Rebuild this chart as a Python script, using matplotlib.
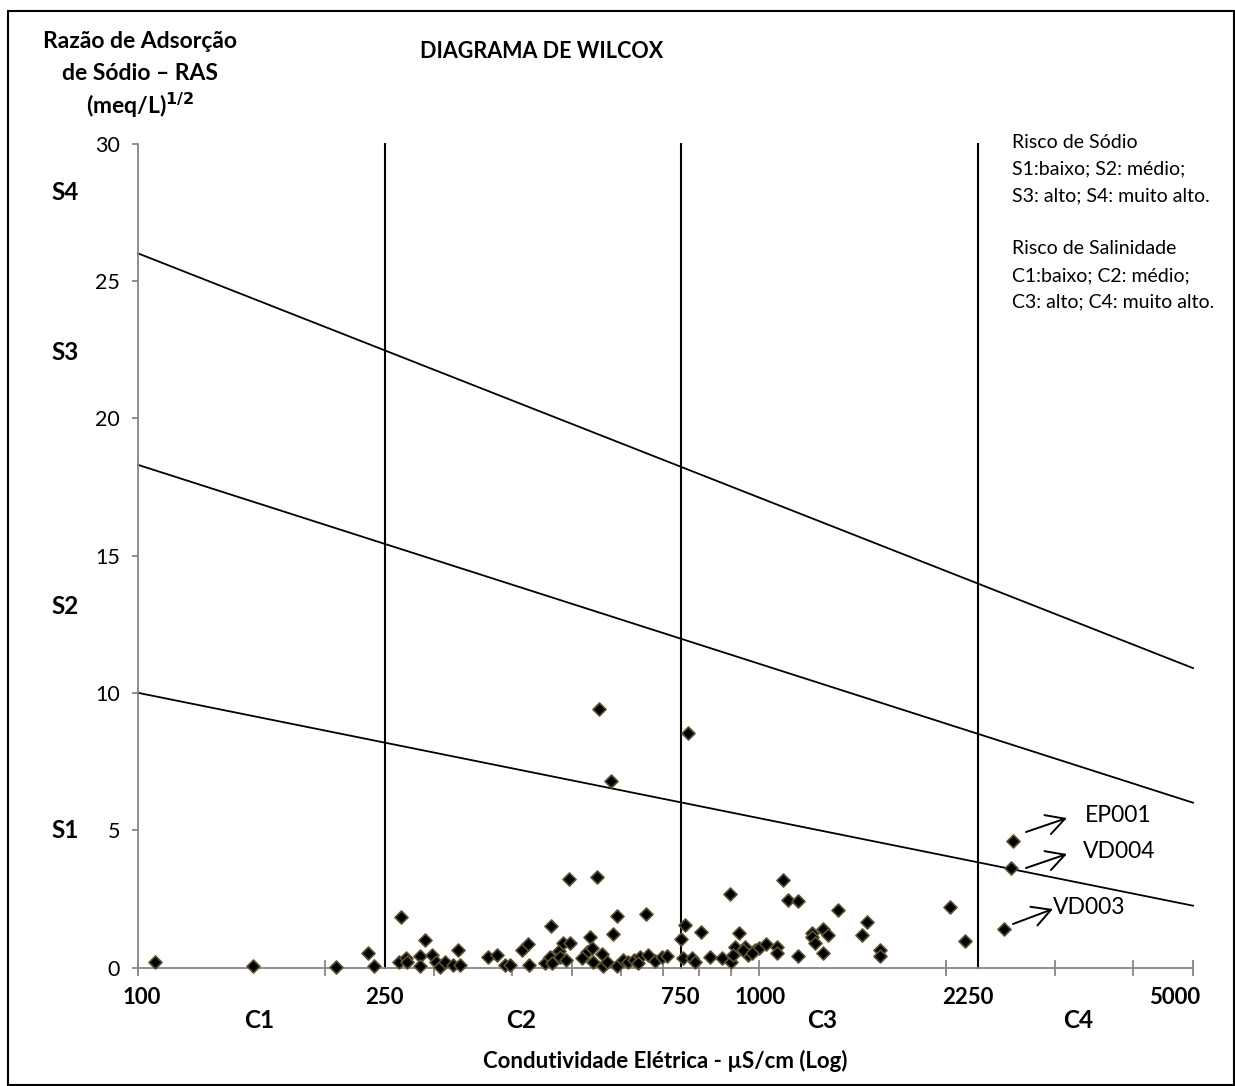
import matplotlib
matplotlib.use("Agg")
import matplotlib.pyplot as plt
import numpy as np

W, H = 1235, 1086
FONT = ["Lato", "DejaVu Sans"]
plt.rcParams['font.family'] = FONT

# ---------------- data ----------------
ce = [106.5, 153, 208, 235, 240, 265, 263, 270, 271, 285, 285, 290, 297, 302, 306, 312,
      322, 328, 330, 366, 379, 390, 397, 416, 424, 427, 453, 461, 465, 462, 476, 483,
      496, 478, 489, 494, 548, 534, 581, 591, 657, 528, 538, 518, 541, 558, 561, 569,
      590, 603, 616, 628, 643, 639, 663, 680, 697, 712, 748, 761, 754, 779, 789, 806,
      834, 871, 899, 929, 915, 900, 909, 950, 961, 985, 1001, 1026, 1068, 1068, 1092,
      1115, 1157, 1157, 1216, 1216, 1231, 1270, 1293, 1270, 1342, 1464, 1494, 1566,
      1566, 2030, 2149, 2481, 2546, 2562, 553, 770, 577, 944, 974]
ras = [0.20, 0.05, 0.03, 0.53, 0.05, 1.85, 0.20, 0.36, 0.20, 0.42, 0.05, 1.00, 0.46,
       0.20, 0.03, 0.21, 0.08, 0.64, 0.10, 0.37, 0.44, 0.10, 0.08, 0.65, 0.86, 0.08,
       0.16, 0.39, 0.15, 1.51, 0.61, 0.88, 0.88, 0.39, 0.27, 3.21, 3.29, 1.10, 1.22,
       1.89, 1.95, 0.58, 0.70, 0.33, 0.21, 0.48, 0.05, 0.21, 0.05, 0.27, 0.21, 0.27,
       0.39, 0.15, 0.46, 0.25, 0.39, 0.42, 1.03, 1.55, 0.33, 0.33, 0.21, 1.28, 0.37,
       0.33, 2.66, 1.24, 0.76, 0.21, 0.46, 0.73, 0.46, 0.64, 0.70, 0.86, 0.74, 0.54,
       3.19, 2.46, 2.42, 0.42, 1.27, 1.12, 0.88, 1.39, 1.19, 0.54, 2.09, 1.19, 1.67,
       0.64, 0.42, 2.21, 0.95, 1.41, 3.61, 4.62, 9.40, 8.55, 6.79, 0.63, 0.53]

# boundaries
ce_limits = [250, 750, 2250]
line_ce = [100, 5000]
s1_s2 = [10.0, 2.25]
s2_s3 = [18.3, 6.0]
s3_s4 = [26.0, 10.9]

# labelled samples
sample_names = ["EP001", "VD004", "VD003"]

# text labels
x_tick_texts = ["100", "250", "750", "1000", "2250", "5000"]
c_classes = ["C1", "C2", "C3", "C4"]
s_classes = ["S4", "S3", "S2", "S1"]
y_ticks = [0, 5, 10, 15, 20, 25, 30]


def fx(px):
    return px / W


def fy(py):
    return 1 - py / H


fig = plt.figure(figsize=(W / 100, H / 100), dpi=100)
ax = fig.add_axes([fx(138), fy(967.5), (1193 - 138) / W, (967.5 - 143.5) / H])
ax.set_xscale('log')
ax.set_xlim(100, 5000)
ax.set_ylim(0, 30)

gray = '#868686'
for s in ['top', 'right']:
    ax.spines[s].set_visible(False)
for s in ['left', 'bottom']:
    ax.spines[s].set_color(gray)
    ax.spines[s].set_linewidth(1.3)

ax.set_xticks([100, 1000])
ax.set_xticks([200, 300, 400, 500, 600, 700, 800, 900, 2000, 3000, 4000, 5000], minor=True)
ax.tick_params(axis='x', which='both', direction='inout', length=11, width=1.3,
               color=gray, labelbottom=False)
ax.set_yticks(y_ticks)
ax.set_yticklabels([str(v) for v in y_ticks])
ax.tick_params(axis='y', which='major', direction='out', length=4, width=1.3,
               color=gray, labelsize=15.5, pad=9)
ax.yaxis.set_minor_locator(matplotlib.ticker.NullLocator())

# vertical salinity limits
for c in ce_limits:
    ax.plot([c, c], [0, 30], color='black', lw=1.5, clip_on=False)

# sodium hazard lines
for ys in (s1_s2, s2_s3, s3_s4):
    ax.plot(line_ce, ys, color='black', lw=1.3, clip_on=False)

ax.scatter(ce, ras, marker='D', s=44, facecolor='black', edgecolor='#5a5233',
           linewidth=1.2, zorder=5, clip_on=False)


def px2data(px, py):
    return 10 ** (2 + (px - 138) / 621.0), (967.5 - py) / 27.47


arrows = [((1026, 832), (1067, 818), (1085, 816)),
          ((1026, 868), (1067, 854), (1083, 852)),
          ((1013, 924), (1053, 909), (1053, 907))]
for name, (a, b, t) in zip(sample_names, arrows):
    ax.annotate('', xy=px2data(*b), xytext=px2data(*a),
                arrowprops=dict(arrowstyle='->,head_length=0.55,head_width=0.3',
                                color='black', lw=1.4,
                                mutation_scale=24, shrinkA=0, shrinkB=0),
                annotation_clip=False)
    fig.text(fx(t[0]), fy(t[1]), name, fontsize=16.5, ha='left', va='center')

# title & axis labels
fig.text(fx(542), fy(52), "DIAGRAMA DE WILCOX", fontsize=15.5, fontweight='bold',
         ha='center', va='center')
ylab_lines = ["Razão de Adsorção", "de Sódio – RAS", "(meq/L)$^{\\mathbf{1/2}}$"]
for txt, py in zip(ylab_lines, [41, 74, 105]):
    fig.text(fx(140), fy(py), txt, fontsize=16.5, fontweight='bold', ha='center', va='center')
fig.text(fx(665), fy(1061), "Condutividade Elétrica - µS/cm (Log)", fontsize=16,
         fontweight='bold', ha='center', va='center')

for txt, px in zip(x_tick_texts, [142, 384, 680, 760, 968, 1175]):
    fig.text(fx(px), fy(998), txt, fontsize=16, fontweight='bold', ha='center', va='center')
for txt, px in zip(c_classes, [259, 521, 822, 1078]):
    fig.text(fx(px), fy(1021), txt, fontsize=17.5, fontweight='bold', ha='center', va='center')
for txt, py in zip(s_classes, [192, 353, 607, 830]):
    fig.text(fx(51), fy(py), txt, fontsize=17.5, fontweight='bold', ha='left', va='center')

legend_lines = ["Risco de Sódio", "S1:baixo; S2: médio;", "S3: alto; S4: muito alto.",
                "", "Risco de Salinidade", "C1:baixo; C2: médio;", "C3: alto; C4: muito alto."]
for i, txt in enumerate(legend_lines):
    fig.text(fx(1012), fy(142 + 26.7 * i), txt, fontsize=14, ha='left', va='center')

# outer frame
fig.patches.append(plt.Rectangle((fx(8), fy(1085)), fx(1226), (1085 - 11) / H,
                                 transform=fig.transFigure, fill=False,
                                 edgecolor='black', lw=1.5))

fig.savefig("out.png", dpi=100)
